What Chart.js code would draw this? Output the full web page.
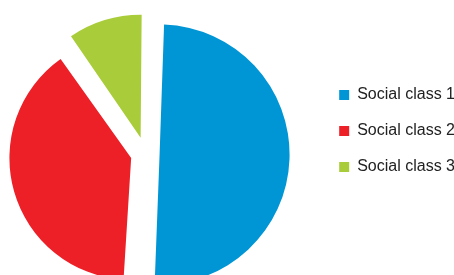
<!DOCTYPE html>
<html>
<head>
<meta charset="utf-8">
<script src="https://cdn.jsdelivr.net/npm/chart.js@4"></script>
<style>
	html, body { margin: 0; padding: 0; background: #fff; overflow: hidden; }
	body { width: 454px; height: 275px; position: relative; }
	#chart-pie { position: absolute; left: -28px; top: 0; }
</style>
</head>
<body>
<canvas id="chart-pie" width="493" height="275"></canvas>
<script>
// Data
const classLabels = ['Social class 1', 'Social class 2', 'Social class 3'];
const classShares = [50.6, 39.4, 10];

// Pie
!(function () {
	const ctx = document.getElementById('chart-pie');

	new Chart(ctx, {
		type: 'pie',
		data: {
			labels: classLabels,
			datasets: [
				{
					data: classShares,
					backgroundColor: ['#0096d6', '#ed1f27', '#a9cd3a'],
					borderWidth: 0,
					offset: [56, 60, 68], // exploded slices
				},
			],
		},
		options: {
			responsive: false,
			animation: false,
			events: [],
			rotation: 1,
			radius: 116,
			layout: {
				padding: { top: 67, bottom: 34, left: 0, right: 0 },
			},
			plugins: {
				tooltip: { enabled: false },
				legend: {
					position: 'right',
					align: 'start',
					labels: {
						boxWidth: 10,
						boxHeight: 10,
						padding: 20,
						color: '#222',
						font: {
							family: '"Liberation Sans", Arial, sans-serif',
							size: 16,
						},
					},
				},
			},
		},
	});
})();
</script>
</body>
</html>
